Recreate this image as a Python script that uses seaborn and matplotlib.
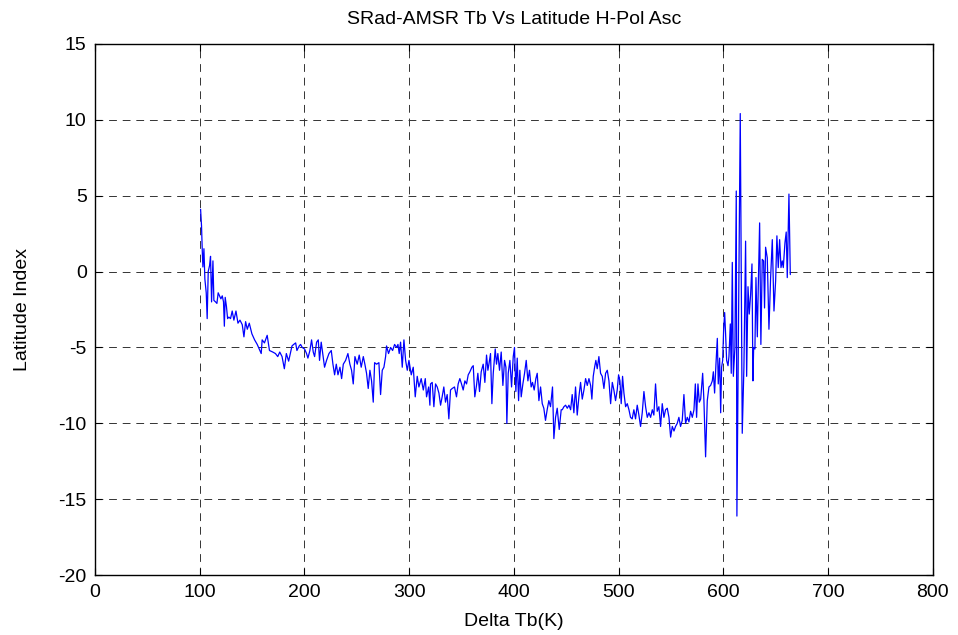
import matplotlib
matplotlib.use("Agg")
import matplotlib.pyplot as plt
import seaborn as sns
import pandas as pd

delta_tb = [
    100.8, 101.7, 102.4, 103.0, 104.0, 104.9, 106.2, 107.1, 108.1, 109.4,
    110.3, 111.3, 112.6, 113.5, 115.1, 116.4, 117.6, 118.9, 120.2, 121.5,
    122.7, 123.5, 124.3, 125.5, 126.6, 127.8, 129.4, 131.0, 132.6,
    134.6, 136.5, 138.4, 140.6, 142.2, 143.8, 145.4, 147.3, 149.8, 152.4,
    154.9, 158.7, 159.6, 161.8, 164.4, 166.6, 169.7, 172.3, 174.5, 176.4,
    178.6, 180.8, 182.7, 184.9, 186.5, 188.1, 189.7, 191.6, 192.8, 195.0,
    196.3, 197.9, 200.1, 202.0, 203.3, 205.2, 206.8, 208.4, 209.7, 211.6,
    213.2, 214.4, 216.0, 217.6, 219.2, 221.1, 223.4, 225.6, 227.2, 228.8,
    230.4, 232.0, 233.9, 235.5, 237.1, 239.3, 241.5, 243.4, 245.0, 246.6,
    248.2, 250.4, 252.3, 254.2, 256.2, 257.7, 259.3, 260.9, 262.5, 264.1,
    265.7, 267.0, 268.9, 271.1, 272.7, 274.3, 275.9, 277.5, 278.4, 280.3,
    282.3, 284.2, 286.1, 288.0, 289.3, 290.5, 291.8, 293.4, 295.0, 296.6,
    298.2, 299.8, 302.0, 303.9, 305.8, 307.7, 309.3, 311.5, 313.5, 315.4,
    316.6, 318.6, 319.8, 320.4, 322.0, 323.6, 325.2, 326.8, 328.4, 330.0,
    331.5, 333.1, 334.7, 336.3, 337.9, 339.5, 341.1, 343.3, 345.2, 346.8,
    348.4, 350.0, 351.6, 353.2, 354.8, 356.4, 358.0, 359.9, 361.2, 362.7,
    364.3, 365.6, 367.2, 368.8, 370.7, 372.3, 373.9, 375.2, 376.4, 377.7,
    379.0, 380.3, 382.2, 383.4, 384.7, 386.3, 387.9, 389.5, 391.1, 392.4,
    393.3, 394.6, 396.2, 397.8, 399.4, 400.6, 401.9, 403.2, 404.5, 405.7,
    407.0, 408.6, 410.2, 411.8, 413.4, 414.9, 416.5, 417.8, 419.4, 421.0,
    422.3, 423.9, 425.5, 427.1, 428.6, 430.2, 431.8, 433.4, 435.0, 436.9,
    438.2, 439.8, 441.4, 443.3, 445.2, 446.2, 447.8, 449.4, 451.0, 452.6,
    454.2, 455.7, 457.3, 458.9, 460.5, 462.1, 463.7, 465.3, 466.9, 468.5,
    470.1, 471.7, 473.3, 474.5, 475.8, 477.1, 478.3, 479.6, 481.2, 482.8,
    484.4, 486.0, 487.6, 489.2, 490.8, 492.4, 494.0, 495.5, 497.1, 498.7,
    500.0, 501.3, 502.5, 503.8, 505.1, 506.7, 508.3, 509.9, 511.4, 513.0,
    514.6, 516.2, 517.8, 519.4, 521.0, 522.6, 524.2, 525.8, 527.4, 529.0,
    530.6, 532.2, 533.7, 535.3, 536.9, 538.5, 540.1, 541.7, 543.3, 544.9,
    546.5, 548.1, 549.7, 551.3, 552.9, 554.4, 556.0, 557.6, 559.2, 560.8,
    562.4, 564.0, 565.6, 567.2, 568.8, 570.4, 572.0, 573.3, 574.5, 575.8,
    577.1, 578.4, 580.3, 581.5, 583.1, 584.7, 586.3, 587.9, 589.5, 590.5,
    591.7, 593.0, 594.3, 595.2, 596.5, 597.5, 598.4, 599.4, 600.3, 601.3,
    602.2, 603.2, 604.5, 605.4, 606.7, 607.6, 608.6, 609.6, 611.1, 612.4,
    613.0, 614.3, 616.2, 618.1, 619.7, 621.3, 622.3, 623.6, 624.8, 626.1,
    627.4, 628.3, 629.0, 630.2, 631.2, 632.5, 633.4, 634.7, 635.9, 637.2,
    638.5, 639.4, 640.4, 642.0, 643.6, 645.2, 646.8, 648.4, 650.0, 651.2,
    652.5, 653.8, 655.1, 656.3, 657.3, 658.9, 660.1, 661.1, 662.7, 664.0,
]

latitude_index = [
    4.1, 3.0, 1.4, 0.3, 1.5, -0.5, -1.4, -3.1, 0.0, 0.4,
    1.0, -2.0, 0.7, -1.9, -2.0, -2.1, -1.4, -1.6, -1.8, -1.6,
    -2.0, -3.6, -1.7, -2.3, -3.1, -3.0, -3.1, -2.6, -3.2,
    -2.6, -3.4, -3.2, -3.5, -4.3, -3.3, -3.8, -3.4, -4.1, -4.5,
    -4.8, -5.4, -4.5, -4.7, -4.2, -5.2, -5.3, -5.4, -5.6, -5.3,
    -5.6, -6.4, -5.4, -5.9, -5.4, -4.9, -4.8, -4.7, -5.2, -4.9,
    -4.8, -5.0, -5.1, -5.4, -5.7, -5.2, -4.5, -5.3, -5.6, -4.65,
    -4.5, -5.85, -4.65, -5.5, -6.3, -5.85, -5.4, -5.2, -6.1, -6.8,
    -6.1, -6.8, -6.3, -7.05, -6.1, -5.85, -5.4, -6.1, -6.5, -7.4,
    -5.6, -6.1, -5.5, -6.3, -5.6, -6.1, -6.7, -7.7, -6.5, -7.2,
    -8.6, -6.0, -6.1, -6.0, -8.1, -6.5, -6.3, -5.6, -4.9, -5.4,
    -5.0, -5.2, -4.8, -5.0, -4.8, -5.4, -4.65, -6.3, -4.5, -5.85,
    -6.5, -5.85, -6.8, -6.3, -8.25, -6.9, -7.6, -7.05, -7.8, -7.05,
    -8.25, -7.6, -8.8, -7.4, -7.3, -8.9, -7.4, -7.6, -8.0, -8.8,
    -8.25, -7.6, -8.6, -8.1, -9.7, -7.8, -7.7, -7.6, -8.25, -7.4,
    -7.05, -7.4, -7.8, -7.2, -7.4, -6.8, -6.6, -6.3, -6.2, -8.25,
    -7.5, -6.7, -7.9, -6.6, -6.1, -7.3, -5.5, -6.5, -6.0, -5.4,
    -8.7, -6.7, -5.1, -6.1, -5.4, -6.5, -5.3, -7.5, -5.85, -6.3,
    -10.0, -6.7, -5.85, -7.6, -5.6, -5.0, -7.9, -5.7, -8.5, -6.5,
    -8.25, -7.4, -6.7, -5.85, -7.2, -6.5, -7.6, -7.3, -7.8, -7.05,
    -6.7, -8.5, -7.6, -8.7, -9.0, -9.8, -9.1, -8.5, -8.9, -7.6,
    -11.0, -9.6, -9.0, -10.4, -9.1, -9.1, -8.9, -8.8, -9.0, -8.8,
    -9.1, -8.1, -9.3, -7.6, -9.45, -8.25, -7.3, -8.4, -7.8, -7.05,
    -7.5, -7.05, -7.5, -8.4, -6.9, -6.3, -5.85, -6.4, -5.6, -6.7,
    -6.9, -7.7, -6.7, -6.5, -7.2, -8.7, -7.3, -7.8, -8.5, -7.8,
    -6.8, -7.2, -8.7, -6.9, -8.0, -8.9, -8.7, -9.1, -9.6, -9.7,
    -9.1, -9.7, -8.8, -9.45, -10.2, -9.3, -7.9, -8.9, -9.6, -9.3,
    -9.6, -9.1, -9.45, -7.4, -9.2, -8.9, -10.2, -8.7, -9.6, -9.1,
    -9.0, -9.6, -10.9, -10.2, -10.5, -10.2, -10.0, -9.6, -10.2, -9.8,
    -8.1, -10.0, -9.6, -9.9, -9.2, -9.6, -9.1, -7.4, -9.6, -7.4,
    -8.6, -8.4, -6.7, -8.5, -12.2, -8.5, -7.6, -7.5, -7.2, -6.6,
    -8.0, -6.1, -4.4, -7.4, -5.7, -9.3, -6.3, -5.85, -3.9, -2.7,
    -4.1, -5.85, -6.2, -5.6, -3.45, -6.7, 0.6, -6.9, -5.0, 5.3,
    -16.1, -5.0, 10.4, -10.65, -6.3, 2.0, -6.9, -1.0, -2.8, -1.5,
    0.5, -7.2, -5.0, -5.1, -0.4, -4.3, -1.05, 3.2, -4.8, 0.8,
    0.7, -2.4, 1.6, 0.9, -3.8, -0.4, 2.1, -2.6, -0.6, 2.35,
    0.26, 2.1, 0.26, 0.7, 0.26, 1.9, 2.6, -0.4, 5.1, -0.2,
]

x_ticks = [0, 100, 200, 300, 400, 500, 600, 700, 800]
y_ticks = [-20, -15, -10, -5, 0, 5, 10, 15]

sns.set_theme(style="white")
plt.rcParams["font.family"] = ["Liberation Sans", "DejaVu Sans"]
plt.rcParams["axes.unicode_minus"] = False

df = pd.DataFrame({"Delta Tb(K)": delta_tb, "Latitude Index": latitude_index})

fig = plt.figure(figsize=(9.58, 6.35), dpi=100)
ax = fig.add_axes([0.0992, 0.094, 0.8744, 0.8372])

sns.lineplot(data=df, x="Delta Tb(K)", y="Latitude Index", ax=ax,
             sort=False, estimator=None, color="#0000FF", linewidth=0.9)

ax.set_xlim(0, 800)
ax.set_ylim(-20, 15)
ax.set_xticks(x_ticks)
ax.set_yticks(y_ticks)
ax.set_xticklabels([str(v) for v in x_ticks])
ax.set_yticklabels([str(v) for v in y_ticks])

ax.grid(True, color="#333333", linestyle=(0, (8, 6)), linewidth=0.7)
for s in ax.spines.values():
    s.set_color("black")
    s.set_linewidth(1.0)
    s.set_visible(True)

ax.tick_params(axis="both", which="both", direction="in", length=5, width=0.8,
               top=True, right=True, bottom=True, left=True,
               labelsize=14, colors="black", pad=6)

ax.set_title("SRad-AMSR Tb Vs Latitude H-Pol Asc", fontsize=14, pad=14, color="black")
ax.set_xlabel("Delta Tb(K)", fontsize=14, labelpad=9, color="black")
ax.set_ylabel("Latitude Index", fontsize=14, labelpad=20, color="black")

fig.savefig("out.png", dpi=100, facecolor="white")
